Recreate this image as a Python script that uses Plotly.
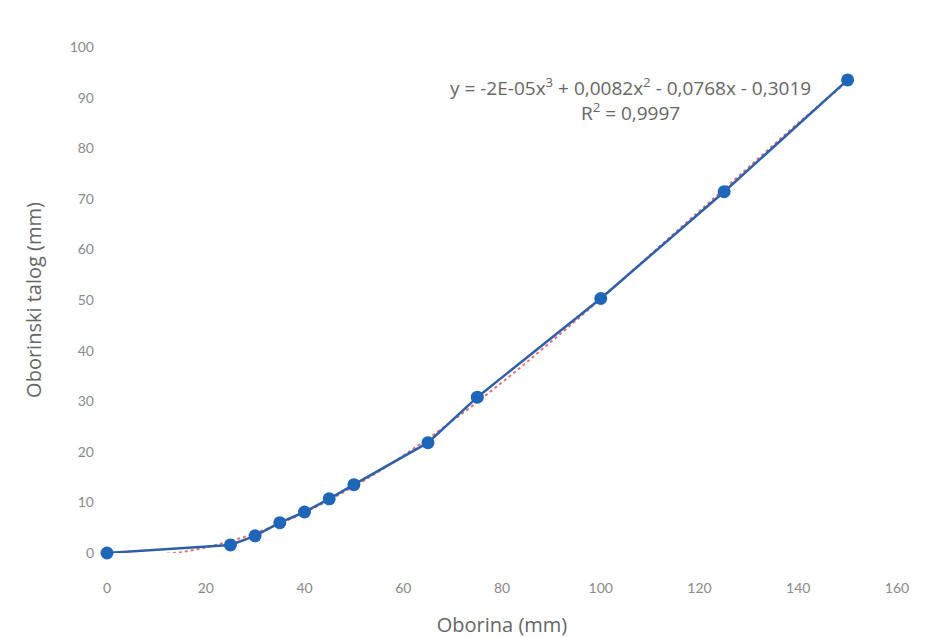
import numpy as np
import plotly.graph_objects as go

# Data
oborina = [0, 25, 30, 35, 40, 45, 50, 65, 75, 100, 125, 150]
talog = [0, 1.6, 3.4, 6.0, 8.1, 10.7, 13.5, 21.8, 30.8, 50.3, 71.4, 93.5]

x_ticks = [0, 20, 40, 60, 80, 100, 120, 140, 160]
y_ticks = [0, 10, 20, 30, 40, 50, 60, 70, 80, 90, 100]

equation_text = "y = -2E-05x<sup>3</sup> + 0,0082x<sup>2</sup> - 0,0768x - 0,3019<br>R<sup>2</sup> = 0,9997"

# Polynomial (order 3) trendline fitted to the data
coef = np.polyfit(oborina, talog, 3)
xt = np.linspace(min(oborina), max(oborina), 200)
yt = np.polyval(coef, xt)

fig = go.Figure()
fig.add_trace(go.Scatter(
    x=xt, y=yt, mode="lines",
    line=dict(color="#e0707a", width=2, dash="dot"),
    showlegend=False, hoverinfo="skip"))
fig.add_trace(go.Scatter(
    x=oborina, y=talog, mode="lines+markers",
    line=dict(color="#2f5fa8", width=2.5),
    marker=dict(color="#1f66b8", size=13),
    showlegend=False, cliponaxis=False))

fig.add_annotation(
    x=106, y=89.6, xref="x", yref="y", text=equation_text,
    showarrow=False, align="center", xanchor="center", yanchor="middle",
    font=dict(family="Open Sans, sans-serif", size=19, color="#666666"))

axis_font = dict(family="Lato, sans-serif", size=14, color="#8a8a8a")
title_font = dict(family="Open Sans, sans-serif", size=20, color="#666666")
fig.update_layout(
    width=947, height=637,
    margin=dict(l=99, r=58, t=39, b=92, autoexpand=False),
    paper_bgcolor="white", plot_bgcolor="white",
    font=dict(family="Lato, sans-serif"),
    xaxis=dict(range=[0, 160], tickvals=x_ticks, showgrid=False,
               zeroline=False, showline=False, tickfont=axis_font,
               ticks="", ticklabelstandoff=25,
               title=dict(text="Oborina (mm)", standoff=22, font=title_font)),
    yaxis=dict(range=[0, 100], tickvals=y_ticks, showgrid=False,
               zeroline=False, showline=False, tickfont=axis_font,
               ticks="", ticklabelstandoff=12,
               title=dict(text="Oborinski talog (mm)", standoff=22, font=title_font)),
)

fig.write_html("out.html")
